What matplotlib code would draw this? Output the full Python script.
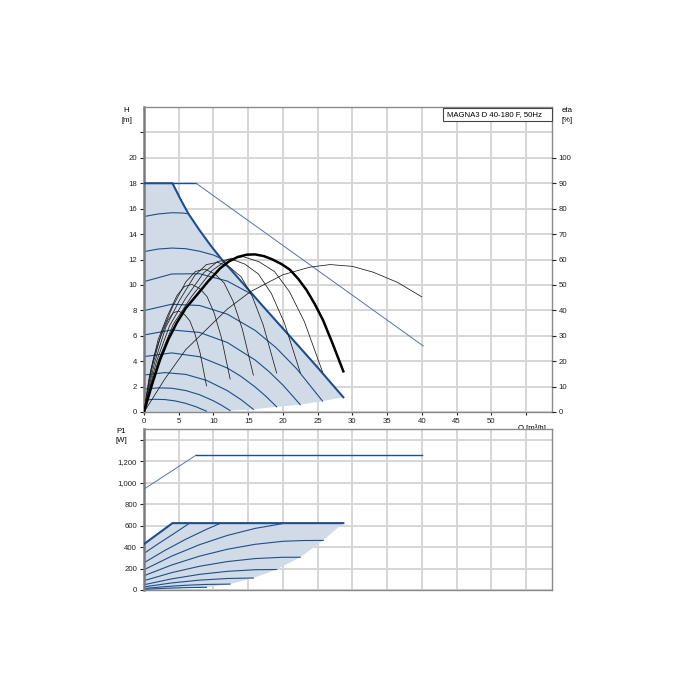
import matplotlib
matplotlib.use("Agg")
import matplotlib.pyplot as plt
from matplotlib.patches import Rectangle
from matplotlib import font_manager

names = {f.name for f in font_manager.fontManager.ttflist}
FAM = ['Liberation Sans Narrow', 'Liberation Sans', 'DejaVu Sans']
FAM = [f for f in FAM if f in names] or ['DejaVu Sans']
plt.rcParams['font.family'] = FAM
NARROW = FAM[0] == 'Liberation Sans Narrow'

# ---------------- data ----------------
TITLE = "MAGNA3 D 40-180 F, 50Hz"
X_TICKS = [0, 5, 10, 15, 20, 25, 30, 35, 40, 45, 50, 55]
X_LABELS = ["0", "5", "10", "15", "20", "25", "30", "35", "40", "45", "50", ""]
H_TICKS = [0, 2, 4, 6, 8, 10, 12, 14, 16, 18, 20, 22]
H_LABELS = ["0", "2", "4", "6", "8", "10", "12", "14", "16", "18", "20", ""]
ETA_TICKS = [0, 10, 20, 30, 40, 50, 60, 70, 80, 90, 100]
P_TICKS = [0, 200, 400, 600, 800, 1000, 1200, 1400]
P_LABELS = ["0", "200", "400", "600", "800", "1,000", "1,200", ""]

# max curve (H)
Q_MAX = [0, 4.1, 5.2, 6.4, 8, 9.6, 11.2, 13.8, 17, 21, 25, 28.7]
H_MAX = [18, 18, 16.8, 15.6, 14.3, 13.1, 12.0, 10.4, 8.4, 5.96, 3.5, 1.16]
# lower boundary of operating range (H)
Q_LOW = [28.7, 25.7, 22.5, 19.1, 15.75, 12.4, 9.0, 0]
H_LOW = [1.16, 0.86, 0.58, 0.41, 0.21, 0.11, 0.06, 0]
# thin limit line (H)
Q_LIM_FLAT = [4.1, 7.5]
H_LIM_FLAT = [18, 18]
Q_LIM_DIAG = [7.5, 40.2]
H_LIM_DIAG = [18, 5.2]

# constant curves (H)
SPEED_Q = [
    [0, 1.5, 3, 4.5, 6, 7.5, 9.0],
    [0, 2, 4, 6, 8, 10, 11.2, 12.4],
    [0, 3, 6, 9, 12, 14, 15.75],
    [0, 4, 8, 12, 14, 16, 17.5, 19.1],
    [0, 4, 8, 12, 16, 18, 20, 22.5],
    [0, 4, 8, 12, 16, 19, 22, 25.7],
    [0, 4, 8, 12, 15.8],
    [0, 2, 4, 6, 8, 10, 11.1],
    [0, 2, 4, 5.5, 6.4],
]
SPEED_H = [
    [0.94, 1.00, 0.98, 0.87, 0.68, 0.41, 0.06],
    [1.79, 1.90, 1.87, 1.69, 1.36, 0.88, 0.52, 0.11],
    [2.91, 3.10, 2.96, 2.49, 1.68, 0.96, 0.21],
    [4.36, 4.65, 4.35, 3.46, 2.79, 1.97, 1.26, 0.41],
    [6.06, 6.455, 6.26, 5.47, 4.09, 3.18, 2.12, 0.58],
    [7.98, 8.48, 8.38, 7.70, 6.42, 5.07, 3.39, 0.86],
    [10.26, 10.86, 10.88, 10.30, 9.18],
    [12.62, 12.82, 12.9, 12.85, 12.65, 12.35, 12.08],
    [15.38, 15.58, 15.68, 15.66, 15.6],
]

# efficiency curves (eta %)
ETA_Q = [
    [0, 0.36, 0.72, 1.48, 2.39, 3.44, 4.23, 5.01, 5.81, 6.59, 7.34, 8.09, 9.0],
    [0, 0.50, 0.99, 2.03, 3.29, 4.74, 5.83, 6.91, 8.00, 9.08, 10.11, 11.15, 12.4],
    [0, 0.63, 1.26, 2.58, 4.17, 6.02, 7.40, 8.77, 10.16, 11.53, 12.84, 14.16, 15.75],
    [0, 0.76, 1.53, 3.13, 5.06, 7.30, 8.98, 10.64, 12.32, 13.98, 15.57, 17.17, 19.1],
    [0, 0.90, 1.80, 3.69, 5.96, 8.60, 10.58, 12.53, 14.51, 16.47, 18.34, 20.23, 22.5],
    [0, 1.03, 2.06, 4.21, 6.81, 9.82, 12.08, 14.31, 16.58, 18.81, 20.95, 23.10, 25.7],
]
ETA_V = [
    [0, 6.9, 13.1, 22.4, 29.5, 36.2, 39.1, 39.7, 38.4, 35.9, 30.7, 23.1, 10.3],
    [0, 8.7, 16.6, 28.4, 37.3, 45.8, 49.4, 50.2, 48.6, 45.4, 38.9, 29.2, 13.0],
    [0, 9.7, 18.6, 31.7, 41.7, 51.2, 55.3, 56.2, 54.4, 50.8, 43.5, 32.6, 14.5],
    [0, 10.2, 19.5, 33.3, 43.7, 53.7, 58.0, 58.9, 57.0, 53.2, 45.6, 34.2, 15.3],
    [0, 10.4, 19.9, 34.0, 44.6, 54.8, 59.2, 60.2, 58.2, 54.3, 46.6, 34.9, 15.5],
    [0, 10.6, 20.2, 34.5, 45.3, 55.7, 60.1, 61.1, 59.1, 55.2, 47.3, 35.5, 15.8],
]
ETA_MAIN_Q = [0, 1.15, 2.3, 3.5, 4.7, 6.0, 7.6, 9.2, 10.95, 12.2, 13.5, 14.8,
              16.0, 17.3, 18.5, 19.8, 21.0, 22.2, 23.4, 24.6, 25.8, 27.2, 28.7]
ETA_MAIN_V = [0, 10.8, 20.5, 28.5, 35.0, 40.8, 46.0, 51.3, 56.5, 59.2, 61.0, 61.9,
              62.0, 61.3, 60.0, 58.2, 56.0, 52.4, 48.0, 42.4, 36.0, 26.6, 16.0]
ETA_LIM_Q = [0, 3, 6, 9, 12, 15.3, 20, 23.9, 26.8, 30, 33, 36.5, 40]
ETA_LIM_V = [0, 13, 24.5, 32.5, 40.5, 47.3, 54, 57, 58, 57.3, 55, 51, 45.3]

# power (P1)
PQ_MAX = [0, 4.1, 28.7]
P_MAX = [428, 623, 623]
PQ_LIM = [0, 7.5]
P_LIM = [940, 1256]
PQ_LIM_FLAT = [7.5, 40]
P_LIM_FLAT = [1256, 1256]
PQ_LOW = [28.7, 25.8, 22.5, 19.1, 15.75, 12.4, 9.0, 0]
P_LOW = [623, 462, 305, 191, 112, 55, 25, 0]
POW_Q = [
    [0, 3, 6, 9],
    [0, 3, 6, 9, 12.4],
    [0, 4, 8, 12, 15.75],
    [0, 4, 8, 12, 16, 19.1],
    [0, 4, 8, 12, 16, 20, 22.5],
    [0, 4, 8, 12, 16, 20, 23, 25.8],
    [0, 4, 8, 12, 16, 20.1],
    [0, 3, 6, 9, 10.95],
    [0, 2, 4, 6.5],
]
POW_P = [
    [6, 15.8, 22.1, 25],
    [14, 31.4, 44, 51.9, 55],
    [29, 66, 92, 107.2, 112],
    [49, 103.9, 145.6, 173.9, 188.9, 191],
    [87, 162, 221.2, 264.8, 292.8, 305, 305],
    [133, 233.2, 315.4, 379.5, 425.7, 453.8, 461, 462],
    [189, 316, 422.4, 508.4, 574, 620],
    [254, 368.6, 472.4, 565.4, 620],
    [341, 428.8, 512.2, 620],
]

# ---------------- style ----------------
BLUE = '#1d4f8c'
THIN_BLUE = '#5673a8'
SHADE = '#d0dbe7'
GRID = '#d6d6d6'
SPINE = '#8a8a8a'
FS = 6.6 if NARROW else 5.6

W, Hpx = 700, 700
fig = plt.figure(figsize=(7, 7), dpi=100)

L, R = 144, 551.7
ax = fig.add_axes([L / W, 1 - 412 / Hpx, (R - L) / W, 305 / Hpx])
axb = fig.add_axes([L / W, 1 - 590 / Hpx, (R - L) / W, 161 / Hpx])


def style(a):
    a.set_axisbelow(True)
    a.grid(True, color=GRID, lw=1.4)
    for s in a.spines.values():
        s.set_color(SPINE)
        s.set_linewidth(1.0)
    a.spines['left'].set_linewidth(1.8)
    a.spines['left'].set_color('#7a7a7a')


# ---------------- top chart ----------------
style(ax)
ax.set_xlim(0, 58.7)
ax.set_ylim(0, 24)
ax.set_xticks(X_TICKS)
ax.set_xticklabels(X_LABELS)
ax.set_yticks(H_TICKS)
ax.set_yticklabels(H_LABELS)
ax.tick_params(axis='y', direction='out', length=3, width=0.8, colors='#222222',
               labelsize=FS, pad=2)
ax.tick_params(axis='x', direction='out', length=2, width=0.8, colors='#222222',
               labelsize=FS, pad=2)
ax.text(55.8, -0.04, "Q [m³/h]", transform=ax.get_xaxis_transform(),
        ha='center', va='top', fontsize=FS)

# shaded operating range
ax.fill(Q_MAX + Q_LOW, H_MAX + H_LOW, color=SHADE, lw=0, zorder=1)

for q, h in zip(SPEED_Q, SPEED_H):
    ax.plot(q, h, color=BLUE, lw=0.8, zorder=2)

ax.plot(Q_LIM_FLAT, H_LIM_FLAT, color=BLUE, lw=1.0, zorder=3)
ax.plot(Q_LIM_DIAG, H_LIM_DIAG, color=THIN_BLUE, lw=0.7, zorder=3)
ax.plot(Q_MAX, H_MAX, color=BLUE, lw=1.5, zorder=4, solid_joinstyle='round')

# efficiency on right axis
ax2 = ax.twinx()
ax2.set_ylim(0, 120)
ax2.set_yticks(ETA_TICKS)
ax2.tick_params(axis='y', direction='out', length=3, width=0.8, colors='#222222',
                labelsize=FS, pad=2)
for s in ax2.spines.values():
    s.set_visible(False)
for q, e in zip(ETA_Q, ETA_V):
    ax2.plot(q, e, color='#1a1a1a', lw=0.55)
ax2.plot(ETA_LIM_Q, ETA_LIM_V, color='#1a1a1a', lw=0.55)
ax2.plot(ETA_MAIN_Q, ETA_MAIN_V, color='black', lw=1.8, solid_joinstyle='round')

# title box
x0 = (443 - L) / (R - L)
y0 = (412 - 121) / 305
y1 = (412 - 108) / 305
ax2.add_patch(Rectangle((x0, y0), 1 - x0, y1 - y0, transform=ax2.transAxes,
                        facecolor='white', edgecolor='#444444', lw=0.8,
                        zorder=5, clip_on=False))
ax2.text(x0 + 0.01, (y0 + y1) / 2, TITLE, transform=ax2.transAxes,
         ha='left', va='center', fontsize=FS, zorder=6)

fig.text(126 / W, 1 - 111 / Hpx, "H", ha='center', va='center', fontsize=FS)
fig.text(127 / W, 1 - 121 / Hpx, "[m]", ha='center', va='center', fontsize=FS)
fig.text(567 / W, 1 - 111 / Hpx, "eta", ha='center', va='center', fontsize=FS)
fig.text(567 / W, 1 - 120 / Hpx, "[%]", ha='center', va='center', fontsize=FS)

# ---------------- bottom chart ----------------
style(axb)
axb.set_xlim(0, 58.7)
axb.set_ylim(0, 1500)
axb.set_xticks(X_TICKS)
axb.set_xticklabels([])
axb.set_yticks(P_TICKS)
axb.set_yticklabels(P_LABELS)
axb.tick_params(axis='y', direction='out', length=3, width=0.8, colors='#222222',
                labelsize=FS, pad=2)
axb.tick_params(axis='x', length=0)

axb.fill(PQ_MAX + PQ_LOW, P_MAX + P_LOW, color=SHADE, lw=0, zorder=1)
for q, p in zip(POW_Q, POW_P):
    axb.plot(q, p, color=BLUE, lw=0.8, zorder=2)
axb.plot(PQ_MAX, P_MAX, color=BLUE, lw=1.5, zorder=4)
axb.plot(PQ_LIM, P_LIM, color=THIN_BLUE, lw=0.7, zorder=3)
axb.plot(PQ_LIM_FLAT, P_LIM_FLAT, color=BLUE, lw=1.0, zorder=3)

fig.text(121 / W, 1 - 431 / Hpx, "P1", ha='center', va='center', fontsize=FS)
fig.text(121 / W, 1 - 441 / Hpx, "[W]", ha='center', va='center', fontsize=FS)

fig.savefig("out.png", dpi=100)
